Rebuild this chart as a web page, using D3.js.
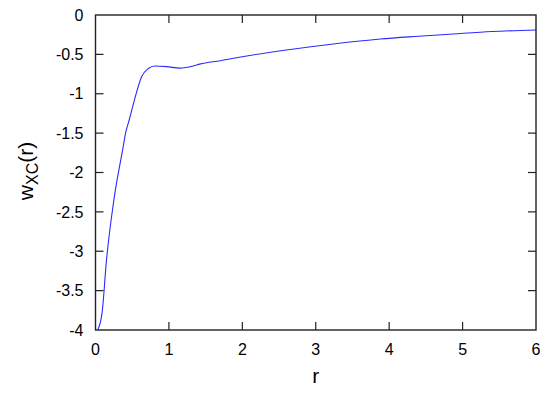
<!DOCTYPE html>
<html>
<head>
<meta charset="utf-8">
<script src="https://cdn.jsdelivr.net/npm/d3@7"></script>
<style>
  body { margin: 0; background: #fff; }
  text { font-family: "Liberation Sans", Arial, sans-serif; fill: #000; }
</style>
</head>
<body>
<div id="plot"></div>
<script>

// values
var rValues = [0.03, 0.09, 0.15, 0.25, 0.37, 0.41, 0.46, 0.53, 0.63, 0.72, 0.81, 0.97,
               1.15, 1.33, 1.42, 1.7, 2.06, 2.6, 3.24, 3.88, 4.4, 4.87, 5.4, 6.0];
var wValues = [-4.0, -3.78, -3.11, -2.35, -1.71, -1.5, -1.33, -1.08, -0.78, -0.68, -0.648, -0.656,
               -0.675, -0.648, -0.624, -0.58, -0.52, -0.444, -0.368, -0.305, -0.27, -0.241, -0.21, -0.19];

var xTicks = [0, 1, 2, 3, 4, 5, 6];
var yTicks = [0, -0.5, -1, -1.5, -2, -2.5, -3, -3.5, -4];

window.onload = function(){

    var data = rValues.map((r, i) => ({r: r, w: wValues[i]}));

    buildChart(data);

};

function buildChart(data){

    var margin = {left: 95.5, top: 15, right: 14, bottom: 67};

    var width = 550 - margin.left - margin.right;
    var height = 397 - margin.top - margin.bottom;

    var xScale = d3.scaleLinear().domain([0, 6]).range([0, width]);
    var yScale = d3.scaleLinear().domain([-4, 0]).range([height, 0]);

    var svg = d3.select("#plot")
                .append("svg")
                .attr("width", 550)
                .attr("height", 397)
                .append("g")
                .attr("transform", "translate(" + margin.left + "," + margin.top + ")");

    var tick = 8;

    // bottom and top ticks
    svg.append("g").selectAll("line.xb")
        .data(xTicks.slice(1, -1))
        .enter().append("line")
        .attr("x1", d => xScale(d)).attr("x2", d => xScale(d))
        .attr("y1", height).attr("y2", height - tick)
        .attr("stroke", "#222").attr("stroke-width", 1.2);

    svg.append("g").selectAll("line.xt")
        .data(xTicks.slice(1, -1))
        .enter().append("line")
        .attr("x1", d => xScale(d)).attr("x2", d => xScale(d))
        .attr("y1", 0).attr("y2", tick)
        .attr("stroke", "#222").attr("stroke-width", 1.2);

    // left and right ticks
    svg.append("g").selectAll("line.yl")
        .data(yTicks.slice(1, -1))
        .enter().append("line")
        .attr("x1", 0).attr("x2", tick)
        .attr("y1", d => yScale(d)).attr("y2", d => yScale(d))
        .attr("stroke", "#222").attr("stroke-width", 1.2);

    svg.append("g").selectAll("line.yr")
        .data(yTicks.slice(1, -1))
        .enter().append("line")
        .attr("x1", width).attr("x2", width - tick)
        .attr("y1", d => yScale(d)).attr("y2", d => yScale(d))
        .attr("stroke", "#222").attr("stroke-width", 1.2);

    // tick labels
    svg.append("g").selectAll("text")
        .data(xTicks)
        .enter().append("text")
        .attr("x", d => xScale(d))
        .attr("y", height + 24.5)
        .attr("text-anchor", "middle")
        .style("font-size", "16px")
        .text(d => d);

    svg.append("g").selectAll("text")
        .data(yTicks)
        .enter().append("text")
        .attr("x", -12)
        .attr("y", d => yScale(d) + 5.7)
        .attr("text-anchor", "end")
        .style("font-size", "16px")
        .text(d => d);

    // curve
    var line = d3.line()
        .x(d => xScale(d.r))
        .y(d => yScale(d.w))
        .curve(d3.curveMonotoneX);

    svg.append("path")
        .datum(data)
        .attr("d", line)
        .attr("fill", "none")
        .attr("stroke", "#2a2aff")
        .attr("stroke-width", 1.1);

    // frame
    svg.append("rect")
        .attr("x", 0).attr("y", 0)
        .attr("width", width).attr("height", height)
        .attr("fill", "none")
        .attr("stroke", "#222")
        .attr("stroke-width", 1.4);

    // axis titles
    svg.append("text")
        .attr("x", xScale(3))
        .attr("y", 383 - margin.top)
        .attr("text-anchor", "middle")
        .style("font-size", "21px")
        .text("r");

    var ylab = svg.append("text")
        .attr("transform", "translate(" + (33 - margin.left) + "," + (171 - margin.top) + ") rotate(-90)")
        .attr("text-anchor", "middle")
        .style("font-size", "21px");

    ylab.append("tspan").text("w");
    ylab.append("tspan").attr("dy", 5).style("font-size", "16px").text("XC");
    ylab.append("tspan").attr("dy", -5).text("(r)");

}
</script>
</body>
</html>
